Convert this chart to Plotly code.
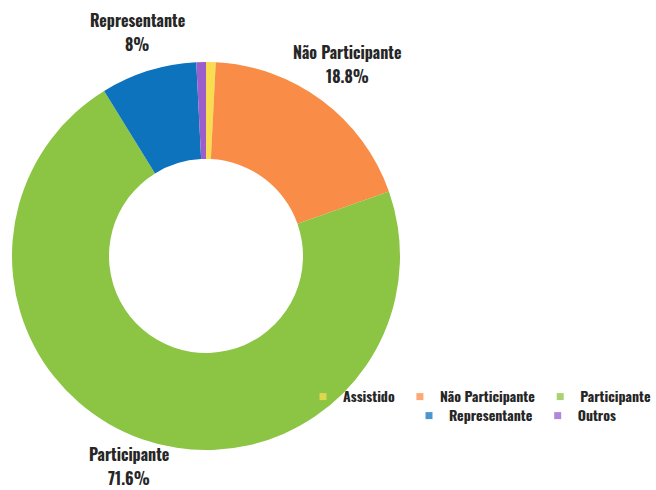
import math
import plotly.graph_objects as go

# Share of each category (percent)
categories = ["Assistido", "Não Participante", "Participante", "Representante", "Outros"]
shares = [0.8, 18.8, 71.6, 8.0, 0.8]
colors = ["#f7dd4f", "#f98d47", "#8cc444", "#0d73bd", "#9a5fcb"]
# Only the larger slices carry an outside label
labelled = ["Não Participante", "Participante", "Representante"]

FONT = "Oswald, 'Liberation Sans Narrow', 'DejaVu Sans Condensed', 'Roboto Condensed', 'Arial Narrow', sans-serif"
W, H = 656, 490
LINE_GAP = 24   # px between the name line and the percent line
LABEL_DY = -3   # small upward nudge of every label block
EDGE = 12       # keep each text line at least this far inside the canvas

# Pie box in pixels (square, so the donut fills it)
box_l, box_r, box_t, box_b = 12, 400, 62, 450
cx, cy = (box_l + box_r) / 2, (box_t + box_b) / 2
radius = (box_r - box_l) / 2

fig = go.Figure()
fig.add_trace(
    go.Pie(
        labels=categories,
        values=shares,
        textinfo="none",
        hole=0.5,
        sort=False,
        direction="clockwise",
        rotation=0,
        marker=dict(colors=colors, line=dict(width=0)),
        domain=dict(x=[box_l / W, box_r / W], y=[1 - box_b / H, 1 - box_t / H]),
        showlegend=False,
        hoverinfo="label+percent",
    )
)

# Outside labels placed on each slice's mid-angle (clockwise from 12 o'clock),
# pushed out so the two-line text block clears the rim
label_font = dict(size=16, color="#262626", family=FONT, weight="bold")
total = sum(shares)
start = 0.0
for cat, v in zip(categories, shares):
    mid = (start + v / 2) / total * 2 * math.pi
    start += v
    if cat not in labelled:
        continue
    dist = radius + 11 + 25 / max(abs(math.cos(mid)), 0.5)
    px = cx + dist * math.sin(mid)
    py = cy - dist * math.cos(mid) + LABEL_DY
    py = min(max(py, LINE_GAP / 2 + EDGE), H - LINE_GAP / 2 - EDGE)
    for line, dy in ((cat, -LINE_GAP / 2), (f"{v:g}%", LINE_GAP / 2)):
        fig.add_annotation(
            x=px / W, y=1 - (py + dy) / H, xref="paper", yref="paper",
            text=line, showarrow=False,
            xanchor="center", yanchor="middle", align="center",
            font=label_font,
        )

# Legend entries, split over two rows
for i, (cat, col) in enumerate(zip(categories, colors)):
    fig.add_trace(
        go.Scatter(
            x=[None], y=[None], mode="markers", name=cat,
            marker=dict(symbol="square", size=7, color=col, opacity=0.75),
            legend="legend" if i < 3 else "legend2",
            hoverinfo="skip",
        )
    )

legend_style = dict(
    orientation="h",
    yanchor="middle",
    font=dict(size=14, color="#262626", family=FONT, weight="bold"),
    itemwidth=30,
    bgcolor="rgba(0,0,0,0)",
)

fig.update_layout(
    width=W,
    height=H,
    margin=dict(l=0, r=0, t=0, b=0, autoexpand=False),
    paper_bgcolor="white",
    plot_bgcolor="white",
    font=dict(family=FONT, color="#262626"),
    xaxis=dict(visible=False),
    yaxis=dict(visible=False),
    legend=dict(x=1.0, xanchor="right", y=1 - 397 / H, **legend_style),
    legend2=dict(x=515 / W, xanchor="center", y=1 - 416 / H, **legend_style),
)

fig.write_html("out.html")
